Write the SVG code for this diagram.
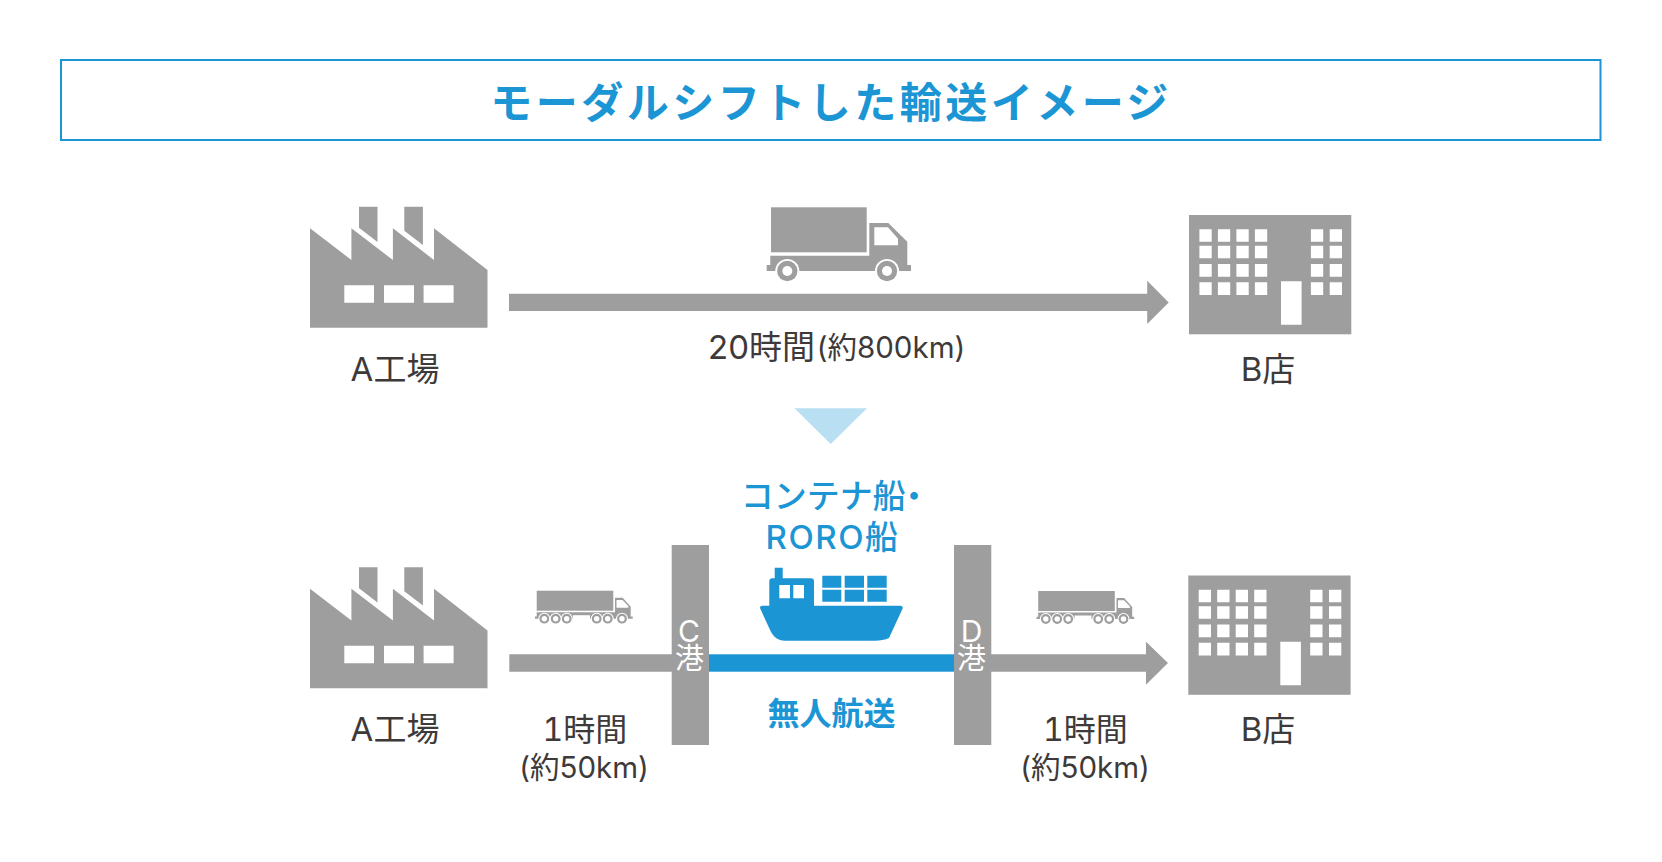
<svg xmlns="http://www.w3.org/2000/svg" width="1662" height="862" viewBox="0 0 1662 862">
<style>
text{font-family:Inter,"Noto Sans CJK JP","Noto Sans",sans-serif;text-anchor:middle}
.l{font-size:33px;fill:#3e3a39}
.t{font-size:32px;fill:#3e3a39;font-feature-settings:"tnum"}
.s{font-size:29.5px;fill:#3e3a39}
.b{font-size:33px;fill:#1c95d4;font-weight:500}
.w{font-size:29px;fill:#fff}
.g{fill:#9e9e9e}
.bl{fill:#1c95d4}
.wh{fill:#fff}
</style>
<defs>
<g id="factory">
<path class="g" d="M310 228.3L351.4 260V228.3L392.9 260V228.3L434 260V228.3L487.5 270V327.7H310Z"/>
<path class="g" d="M359 206.7H377.5V242L359 227.7ZM404.3 206.7H422.9V245L404.3 230.7Z"/>
<path class="wh" d="M344.3 285.3H374V302.7H344.3ZM384 285.3H414V302.7H384ZM423.6 285.3H453.6V302.7H423.6Z"/>
</g>
<g id="building">
<rect class="g" x="1189" y="215" width="162.3" height="119.3"/>
<path class="wh" d="M1199.4 229.3h12.3v12.4h-12.3zM1217.9 229.3h12.3v12.4h-12.3zM1236.4 229.3h12.3v12.4h-12.3zM1254.9 229.3h12.3v12.4h-12.3zM1310.9 229.3h12.3v12.4h-12.3zM1329.7 229.3h12.3v12.4h-12.3zM1199.4 245.8h12.3v12.5h-12.3zM1217.9 245.8h12.3v12.5h-12.3zM1236.4 245.8h12.3v12.5h-12.3zM1254.9 245.8h12.3v12.5h-12.3zM1310.9 245.8h12.3v12.5h-12.3zM1329.7 245.8h12.3v12.5h-12.3zM1199.4 264h12.3v12.7h-12.3zM1217.9 264h12.3v12.7h-12.3zM1236.4 264h12.3v12.7h-12.3zM1254.9 264h12.3v12.7h-12.3zM1310.9 264h12.3v12.7h-12.3zM1329.7 264h12.3v12.7h-12.3zM1199.4 282.3h12.3v12.7h-12.3zM1217.9 282.3h12.3v12.7h-12.3zM1236.4 282.3h12.3v12.7h-12.3zM1254.9 282.3h12.3v12.7h-12.3zM1310.9 282.3h12.3v12.7h-12.3zM1329.7 282.3h12.3v12.7h-12.3zM1281 281.3h20.6v43.4h-20.6z"/>
</g>
<g id="longtruck">
<rect class="g" x="536.7" y="590.7" width="76.6" height="20"/>
<path class="g" d="M536.7 612.3H615V597.7H622.7L630.7 606.7V616.5H632.7V618.7H535V616.5H536.7Z"/>
<path class="wh" d="M616.5 600H622.5L628.3 606V607.7H616.5Z"/>
<path class="wh" d="M573 615.2H590V619H573Z"/>
<g class="wh"><circle cx="544.3" cy="618.7" r="6"/><circle cx="555.7" cy="618.7" r="6"/><circle cx="566.7" cy="618.7" r="6"/><circle cx="596.7" cy="618.7" r="6"/><circle cx="607.7" cy="618.7" r="6"/><circle cx="622" cy="618.7" r="6"/></g>
<g fill="#fff" stroke="#9e9e9e" stroke-width="2.2"><circle cx="544.3" cy="618.7" r="3.8"/><circle cx="555.7" cy="618.7" r="3.8"/><circle cx="566.7" cy="618.7" r="3.8"/><circle cx="596.7" cy="618.7" r="3.8"/><circle cx="607.7" cy="618.7" r="3.8"/><circle cx="622" cy="618.7" r="3.8"/></g>
</g>
</defs>

<g id="title">
<rect x="61" y="60" width="1539.5" height="80" fill="#fff" stroke="#1c95d4" stroke-width="2"/>
<text x="831" y="118" font-size="42" font-weight="700" letter-spacing="3.5" fill="#1c95d4">モーダルシフトした輸送イメージ</text>
</g>

<g id="connectors">
<path class="g" d="M509 293.7H1147.2V280.7L1168.7 302.4L1147.2 324V311H509Z"/>
<path class="g" d="M509.3 654.3H672V671.7H509.3Z"/>
<rect class="bl" x="709" y="654.3" width="245" height="17.4"/>
<path class="g" d="M991 654.3H1146V641.7L1168 663L1146 684.7V671.7H991Z"/>
</g>

<g id="factory-a-top">
<use href="#factory"/>
<text class="l" x="395" y="380.5">A工場</text>
</g>

<g id="truck">
<rect class="g" x="771" y="207.3" width="95.7" height="45"/>
<path class="g" d="M770.3 255.7H869.3V223H888.3L907.3 241.7V265H911V271H766.7V265H770.3Z"/>
<path class="wh" d="M874.3 227.3H888L898 238.7V245.3H874.3Z"/>
<circle class="wh" cx="787.3" cy="271" r="12"/><circle class="g" cx="787.3" cy="271" r="10.2"/><circle class="wh" cx="787.3" cy="271" r="5"/>
<circle class="wh" cx="887" cy="271" r="12"/><circle class="g" cx="887" cy="271" r="10.2"/><circle class="wh" cx="887" cy="271" r="5"/>
</g>

<g id="label-top">
<text class="l" x="761.5" y="358.5">20時間</text>
<text class="s" x="891" y="358">(約800km)</text>
</g>

<g id="building-b-top">
<use href="#building"/>
<text class="l" x="1268" y="380.5">B店</text>
</g>

<polygon id="down-arrow" points="794.5,408.3 867,408.3 830.7,444" fill="#b9dff3"/>

<g id="factory-a-bottom">
<use href="#factory" y="360.5"/>
<text class="l" x="395" y="741">A工場</text>
</g>

<use id="truck-left" href="#longtruck"/>

<g id="duration-left">
<text class="t" x="585" y="741">1時間</text>
<text class="s" x="584" y="778">(約50km)</text>
</g>

<g id="port-c">
<rect class="g" x="671.7" y="545" width="37.3" height="200"/>
<text class="w" x="690"><tspan x="689" y="642" font-size="30">C</tspan><tspan x="689.5" y="669">港</tspan></text>
</g>

<g id="ship-label">
<text class="b" x="831.5" y="508">コンテナ船<tspan style="font-feature-settings:'palt'">・</tspan></text>
<text class="b" x="832.5" y="549" letter-spacing="1.5">RORO船</text>
</g>

<g id="ship">
<path class="bl" d="M774.7 567.7H782.7V578.3H811A3 3 0 0 1 814 581.3V605.7H900.5A2.2 2.2 0 0 1 902.6 608.5L889 638C885 640 880 640.7 875 640.7H785C778 640.7 774 637 771 632L760.2 608.5A2.2 2.2 0 0 1 762 605.7H769.3V581.3A3 3 0 0 1 772.3 578.3H774.7Z"/>
<path class="wh" d="M779.3 585H790V598.3H779.3ZM793.3 585H804V598.3H793.3Z"/>
<path class="bl" d="M822.3 575.7h19v12h-19zM844.7 575.7h19.3v12h-19.3zM867.3 575.7h19.4v12h-19.4zM822.3 589.7h19v12h-19zM844.7 589.7h19.3v12h-19.3zM867.3 589.7h19.4v12h-19.4z"/>
</g>

<text id="sea-label" x="831.5" y="725" font-size="32" fill="#1c95d4" font-weight="700">無人航送</text>

<g id="port-d">
<rect class="g" x="954" y="545" width="37.3" height="200"/>
<text class="w" x="972"><tspan x="971.5" y="642" font-size="30">D</tspan><tspan x="971.5" y="669">港</tspan></text>
</g>

<use id="truck-right" href="#longtruck" x="501.5" y="0.3"/>

<g id="duration-right">
<text class="t" x="1085.5" y="741">1時間</text>
<text class="s" x="1085" y="778">(約50km)</text>
</g>

<g id="building-b-bottom">
<use href="#building" x="-0.7" y="360.5"/>
<text class="l" x="1268" y="741">B店</text>
</g>
</svg>
